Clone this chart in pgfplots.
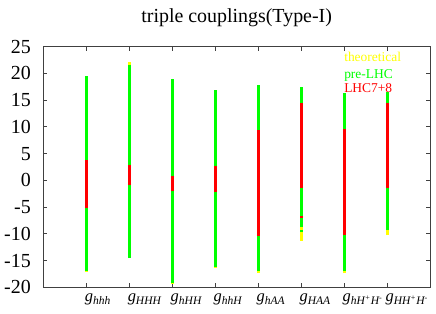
\documentclass[border=0pt]{standalone}
\usepackage{fontspec}
\setmainfont{Liberation Serif}
\usepackage{pgfplots}
\pgfplotsset{compat=1.18}
\definecolor{cyel}{RGB}{255,255,0}
\definecolor{cgrn}{RGB}{0,255,0}
\definecolor{cred}{RGB}{255,0,0}
\newcommand{\gl}[1]{\textit{g}\textsubscript{\itshape #1}}
\begin{document}
\begin{tikzpicture}
\begin{axis}[
  scale only axis, width=386.7bp, height=240.6bp,
  xmin=0, xmax=9, ymin=-20, ymax=25,
  xtick={1,...,8}, ytick={-20,-15,...,25},
  xticklabels={\gl{hhh},\gl{HHH},\gl{hHH},\gl{hhH},\gl{hAA},\gl{HAA},\gl{hH\textsuperscript{+}H\textsuperscript{-}},\gl{HH\textsuperscript{+}H\textsuperscript{-}}},
  tick align=inside, major tick length=4bp,
  axis line style={black!75, line width=0.8bp},
  every tick/.style={black!75, line width=0.8bp},
  /pgf/number format/assume math mode=true,
  yticklabel style={font=\fontsize{20}{24}\selectfont, xshift=-9bp},
  xticklabel style={font=\fontsize{16.5}{19}\selectfont, anchor=north west, xshift=-5bp, yshift=-3bp},
  title={triple couplings(Type-I)},
  title style={font=\fontsize{20}{24}\selectfont, anchor=base, yshift=18bp},
  unbounded coords=jump,
  clip=false,
]
\coordinate (bl) at (rel axis cs:0,0);
\coordinate (tr) at (rel axis cs:1,1);
\addplot[cyel, line width=3bp, no markers] coordinates {
(1,-17.1) (1,19.5) (1,nan)
(2,-14.6) (2,22.2) (2,nan)
(3,-19.3) (3,18.9) (3,nan)
(4,-16.3) (4,16.9) (4,nan)
(5,-17.4) (5,17.9) (5,nan)
(6,-11.3) (6,17.5) (6,nan)
(7,-17.4) (7,16.3) (7,nan)
(8,-10.3) (8,16.6)
};
\addplot[cgrn, line width=3bp, no markers] coordinates {
(1,-16.9) (1,19.5) (1,nan)
(2,-14.5) (2,21.6) (2,nan)
(3,-19.2) (3,18.9) (3,nan)
(4,-16.2) (4,16.9) (4,nan)
(5,-16.9) (5,17.9) (5,nan)
(6,-8.7) (6,17.4) (6,nan)
(6,-9.7) (6,-9.2) (6,nan)
(7,-16.9) (7,16.25) (7,nan)
(8,-9.25) (8,16.6)
};
\addplot[cred, line width=3bp, no markers] coordinates {
(1,-5.2) (1,3.9) (1,nan)
(2,-0.9) (2,2.9) (2,nan)
(3,-2.05) (3,0.75) (3,nan)
(4,-2.2) (4,2.6) (4,nan)
(5,-10.4) (5,9.5) (5,nan)
(6,-1.4) (6,14.4) (6,nan)
(6,-7.1) (6,-6.7) (6,nan)
(7,-10.2) (7,9.7) (7,nan)
(8,-1.4) (8,14.5)
};
\node[anchor=base west, text=cyel, font=\fontsize{13.5}{16}\selectfont, inner sep=0pt] at (axis cs:7.0,22.2) {theoretical};
\node[anchor=base west, text=cgrn, font=\fontsize{13.5}{16}\selectfont, inner sep=0pt] at (axis cs:7.0,19.1) {pre-LHC};
\node[anchor=base west, text=cred, font=\fontsize{13.5}{16}\selectfont, inner sep=0pt] at (axis cs:7.0,16.4) {LHC7+8};
\end{axis}
\pgfresetboundingbox
\path[use as bounding box] ([xshift=-43.3bp,yshift=-26.7bp]bl) rectangle ([xshift=6bp,yshift=46.7bp]tr);
\end{tikzpicture}
\end{document}
